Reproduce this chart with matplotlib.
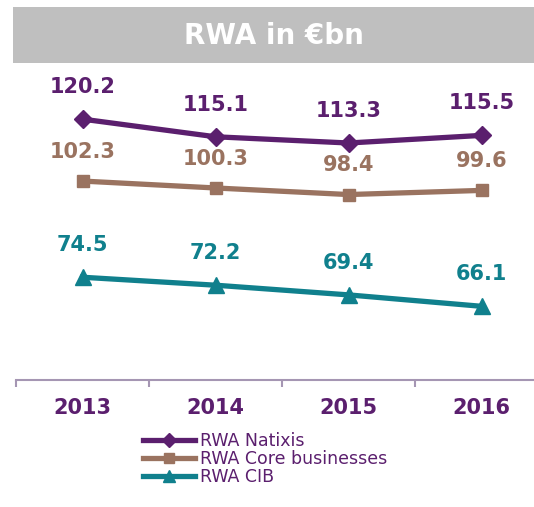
import matplotlib
matplotlib.use("Agg")
import matplotlib.pyplot as plt
from matplotlib.patches import Rectangle

years = ["2013", "2014", "2015", "2016"]
natixis = [120.2, 115.1, 113.3, 115.5]
core = [102.3, 100.3, 98.4, 99.6]
cib = [74.5, 72.2, 69.4, 66.1]
series_names = ["RWA Natixis", "RWA Core businesses", "RWA CIB"]
title = "RWA in €bn"

c_nat = "#5b1f6e"
c_core = "#9a7360"
c_cib = "#10808d"
c_axis = "#a596b3"

fig = plt.figure(figsize=(5.34, 5.07), dpi=100)
W, H = 534, 507

# title box
fig.patches.append(Rectangle((13 / W, 1 - 63 / H), 1 - 13 / W, 56 / H,
                             transform=fig.transFigure, facecolor="#bfbfbf",
                             edgecolor="none", zorder=0))
fig.text((13 + 534) / 2 / W, 1 - 36 / H, title, ha="center", va="center",
         color="white", fontsize=20, fontweight="bold")

ax = fig.add_axes([16 / W, 1 - 380 / H, 532 / W, 310 / H])
x = list(range(len(years)))
ax.set_xlim(-0.5, 3.5)
ax.set_ylim(44.8, 134.4)

ax.plot(x, natixis, color=c_nat, lw=3.8, marker="D", ms=9.5, label=series_names[0])
ax.plot(x, core, color=c_core, lw=3.8, marker="s", ms=9, label=series_names[1])
ax.plot(x, cib, color=c_cib, lw=3.8, marker="^", ms=11.5, label=series_names[2])

for vals, col, off in [(natixis, c_nat, 23), (core, c_core, 21), (cib, c_cib, 23)]:
    for xi, v in zip(x, vals):
        ax.annotate(f"{v:.1f}", (xi, v), xytext=(0, off), textcoords="offset points",
                    ha="center", va="center", color=col, fontsize=15,
                    fontweight="bold")

for s in ["top", "right", "left"]:
    ax.spines[s].set_visible(False)
ax.spines["bottom"].set_color(c_axis)
ax.spines["bottom"].set_linewidth(1.5)
ax.set_yticks([])
ax.set_xticks([-0.5, 0.5, 1.5, 2.5, 3.5])
ax.set_xticklabels([])
ax.tick_params(axis="x", length=5, width=1.5, color=c_axis)
for xi, yr in zip(x, years):
    ax.text(xi, -0.09, yr, transform=ax.get_xaxis_transform(), ha="center",
            va="center", color=c_nat, fontsize=15, fontweight="bold")
ax.patch.set_alpha(0)

leg = fig.legend(loc="upper left", bbox_to_anchor=(136 / W, 1 - 425 / H),
                 frameon=False, handlelength=3.0, handletextpad=0.3,
                 labelspacing=0.0, fontsize=12.5, borderaxespad=0,
                 markerscale=0.75)
for t in leg.get_texts():
    t.set_color(c_nat)

fig.savefig("out.png", dpi=100)
